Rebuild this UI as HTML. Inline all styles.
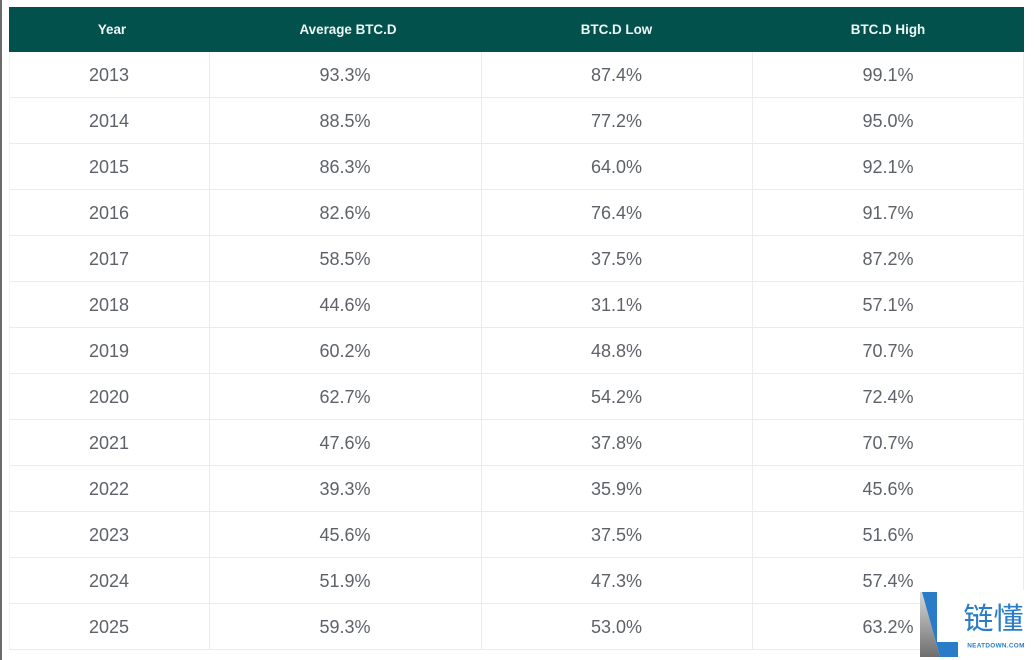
<!DOCTYPE html>
<html>
<head>
<meta charset="utf-8">
<style>
html,body{margin:0;padding:0;background:#fff;}
body{width:1034px;height:660px;position:relative;overflow:hidden;font-family:"Liberation Sans","Noto Sans CJK SC",sans-serif;}
.lb{position:absolute;left:0;top:0;width:2px;height:660px;background:#6b6b6b;}
.hdr{position:absolute;left:9px;top:7px;width:1015px;height:45px;background:#03514d;}
.hdr div{position:absolute;top:0;height:45px;line-height:45px;text-align:center;color:#eef7f4;font-weight:bold;font-size:13.4px;}
.row{position:absolute;left:9px;width:1015px;height:46px;border-bottom:1px solid #ebebeb;box-sizing:border-box;}
.row div{position:absolute;top:0;height:45px;line-height:46px;text-align:center;color:#5e6268;font-size:18px;}
.vl{position:absolute;top:52px;width:1px;height:598px;background:#ececec;}
.c1{left:0;width:200px;}
.c2{left:200px;width:272px;}
.c3{left:472px;width:271px;}
.c4{left:743px;width:272px;}
.logo{position:absolute;left:920px;top:590px;width:114px;height:70px;background:#fff;}
</style>
</head>
<body>
<div class="lb"></div>
<div class="hdr">
<div class="c1" style="left:3px">Year</div>
<div class="c2" style="left:203px">Average BTC.D</div>
<div class="c3">BTC.D Low</div>
<div class="c4">BTC.D High</div>
</div>

<div class="vl" style="left:9px;background:#f3f3f3"></div>
<div class="vl" style="left:209px"></div>
<div class="vl" style="left:481px"></div>
<div class="vl" style="left:752px"></div>
<div class="vl" style="left:1023px"></div>

<div class="row" style="top:52px"><div class="c1">2013</div><div class="c2">93.3%</div><div class="c3">87.4%</div><div class="c4">99.1%</div></div>
<div class="row" style="top:98px"><div class="c1">2014</div><div class="c2">88.5%</div><div class="c3">77.2%</div><div class="c4">95.0%</div></div>
<div class="row" style="top:144px"><div class="c1">2015</div><div class="c2">86.3%</div><div class="c3">64.0%</div><div class="c4">92.1%</div></div>
<div class="row" style="top:190px"><div class="c1">2016</div><div class="c2">82.6%</div><div class="c3">76.4%</div><div class="c4">91.7%</div></div>
<div class="row" style="top:236px"><div class="c1">2017</div><div class="c2">58.5%</div><div class="c3">37.5%</div><div class="c4">87.2%</div></div>
<div class="row" style="top:282px"><div class="c1">2018</div><div class="c2">44.6%</div><div class="c3">31.1%</div><div class="c4">57.1%</div></div>
<div class="row" style="top:328px"><div class="c1">2019</div><div class="c2">60.2%</div><div class="c3">48.8%</div><div class="c4">70.7%</div></div>
<div class="row" style="top:374px"><div class="c1">2020</div><div class="c2">62.7%</div><div class="c3">54.2%</div><div class="c4">72.4%</div></div>
<div class="row" style="top:420px"><div class="c1">2021</div><div class="c2">47.6%</div><div class="c3">37.8%</div><div class="c4">70.7%</div></div>
<div class="row" style="top:466px"><div class="c1">2022</div><div class="c2">39.3%</div><div class="c3">35.9%</div><div class="c4">45.6%</div></div>
<div class="row" style="top:512px"><div class="c1">2023</div><div class="c2">45.6%</div><div class="c3">37.5%</div><div class="c4">51.6%</div></div>
<div class="row" style="top:558px"><div class="c1">2024</div><div class="c2">51.9%</div><div class="c3">47.3%</div><div class="c4">57.4%</div></div>
<div class="row" style="top:604px"><div class="c1">2025</div><div class="c2">59.3%</div><div class="c3">53.0%</div><div class="c4">63.2%</div></div>

<div class="logo">
<svg width="114" height="70" viewBox="920 590 114 70" style="position:absolute;left:0;top:0">
<defs>
<linearGradient id="g" x1="0" y1="0" x2="0" y2="1">
<stop offset="0" stop-color="#d8d8d8"/>
<stop offset="1" stop-color="#6e6e6e"/>
</linearGradient>
</defs>
<polygon points="920,592 922,592 940,657 920,657" fill="url(#g)"/>
<polygon points="922,592 937,592 937,642 958,642 958,657 940,657" fill="#2a7cc8"/>
<text x="993.5" y="629" text-anchor="middle" font-family="'Noto Sans CJK SC',sans-serif" font-size="30" font-weight="normal" fill="#2a7cc8">链懂</text>
<text x="996" y="647.5" text-anchor="middle" font-family="'Liberation Sans',sans-serif" font-size="6.4" font-weight="bold" letter-spacing="0.3" fill="#2a7cc8">NEATDOWN.COM</text>
</svg>
</div>
</body>
</html>
